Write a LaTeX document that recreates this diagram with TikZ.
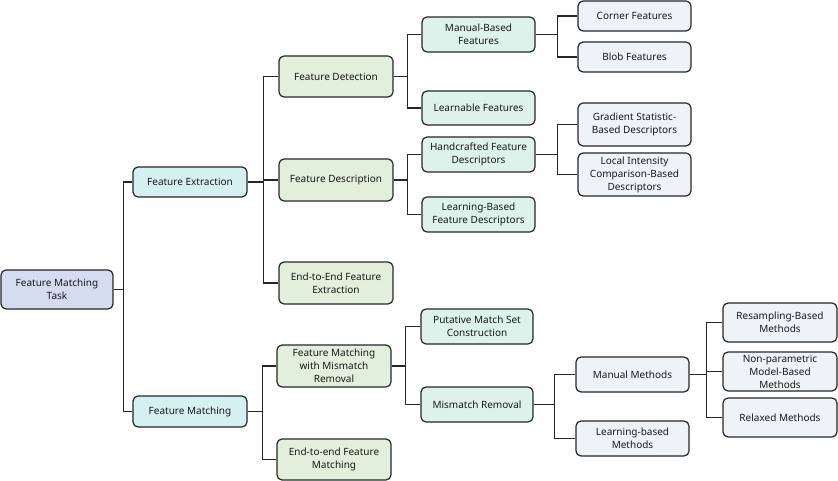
\documentclass[tikz,border=0pt]{standalone}
\usepackage{fontspec}
\setmainfont{Noto Sans}
\definecolor{croot}{HTML}{D5DCF0}
\definecolor{cone}{HTML}{D5F0F0}
\definecolor{ctwo}{HTML}{E2EFDA}
\definecolor{cthree}{HTML}{DDF2EA}
\definecolor{cfour}{HTML}{EEF3F8}
\definecolor{cline}{HTML}{262626}
\tikzset{
  box/.style={draw=cline, line width=1.2pt, rounded corners=5pt, align=center,
    inner sep=1pt, font=\fontsize{10}{13}\selectfont, text=black!90},
  link/.style={draw=cline, line width=1.3pt},
}
\begin{document}
\begin{tikzpicture}[x=1pt,y=-1pt]
\useasboundingbox (0,0) rectangle (838,481);
% root
\node[box, fill=croot, minimum width=112pt, minimum height=39pt] (root) at (57,289.5) {Feature Matching\\Task};
% level 1
\node[box, fill=cone, minimum width=114pt, minimum height=30pt] (fe) at (190,182) {Feature Extraction};
\node[box, fill=cone, minimum width=114pt, minimum height=31pt] (fm) at (190,411.5) {Feature Matching};
% level 2
\node[box, fill=ctwo, minimum width=114pt, minimum height=41pt] (fd) at (336,76.5) {Feature Detection};
\node[box, fill=ctwo, minimum width=114pt, minimum height=42pt] (fdesc) at (336,180) {Feature Description};
\node[box, fill=ctwo, minimum width=114pt, minimum height=42pt] (e2e) at (336,283) {End-to-End Feature\\Extraction};
\node[box, fill=ctwo, minimum width=114pt, minimum height=42pt] (fmmr) at (334,366) {Feature Matching\\with Mismatch\\Removal};
\node[box, fill=ctwo, minimum width=114pt, minimum height=41pt] (e2em) at (334,459.5) {End-to-end Feature\\Matching};
% level 3
\node[box, fill=cthree, minimum width=113pt, minimum height=35pt] (mbf) at (478.5,34.5) {Manual-Based\\Features};
\node[box, fill=cthree, minimum width=113pt, minimum height=34pt] (lf) at (478.5,108) {Learnable Features};
\node[box, fill=cthree, minimum width=113pt, minimum height=35pt] (hfd) at (478.5,154.5) {Handcrafted Feature\\Descriptors};
\node[box, fill=cthree, minimum width=113pt, minimum height=35pt] (lbfd) at (478.5,214.5) {Learning-Based\\Feature Descriptors};
\node[box, fill=cthree, minimum width=112pt, minimum height=35pt] (pmsc) at (477,326.5) {Putative Match Set\\Construction};
\node[box, fill=cthree, minimum width=112pt, minimum height=35pt] (mr) at (477,404.5) {Mismatch Removal};
% level 4
\node[box, fill=cfour, minimum width=113pt, minimum height=30pt] (cf) at (634.5,16) {Corner Features};
\node[box, fill=cfour, minimum width=113pt, minimum height=30pt] (bf) at (634.5,57) {Blob Features};
\node[box, fill=cfour, minimum width=113pt, minimum height=43pt] (gsbd) at (634.5,124.5) {Gradient Statistic-\\Based Descriptors};
\node[box, fill=cfour, minimum width=113pt, minimum height=43pt] (licbd) at (634.5,174.5) {Local Intensity\\Comparison-Based\\Descriptors};
\node[box, fill=cfour, minimum width=113pt, minimum height=35pt] (mm) at (632.5,374.5) {Manual Methods};
\node[box, fill=cfour, minimum width=113pt, minimum height=35pt] (lbm) at (632.5,438.5) {Learning-based\\Methods};
% level 5
\node[box, fill=cfour, minimum width=114pt, minimum height=39pt] (rbm) at (780,322.5) {Resampling-Based\\Methods};
\node[box, fill=cfour, minimum width=114pt, minimum height=39pt] (npmb) at (780,371.5) {Non-parametric\\Model-Based\\Methods};
\node[box, fill=cfour, minimum width=114pt, minimum height=39pt] (relm) at (780,417.5) {Relaxed Methods};
% connectors
\foreach \c in {fe,fm} \draw[link] (root.east) -- ++(10,0) |- (\c.west);
\foreach \c in {fd,fdesc,e2e} \draw[link] (fe.east) -- ++(16,0) |- (\c.west);
\foreach \c in {fmmr,e2em} \draw[link] (fm.east) -- ++(15,0) |- (\c.west);
\foreach \c in {mbf,lf} \draw[link] (fd.east) -- ++(14,0) |- (\c.west);
\foreach \c in {hfd,lbfd} \draw[link] (fdesc.east) -- ++(14,0) |- (\c.west);
\foreach \c in {pmsc,mr} \draw[link] (fmmr.east) -- ++(14,0) |- (\c.west);
\foreach \c in {cf,bf} \draw[link] (mbf.east) -- ++(22,0) |- (\c.west);
\foreach \c in {gsbd,licbd} \draw[link] (hfd.east) -- ++(22,0) |- (\c.west);
\foreach \c in {mm,lbm} \draw[link] (mr.east) -- ++(21,0) |- (\c.west);
\foreach \c in {rbm,npmb,relm} \draw[link] (mm.east) -- ++(17,0) |- (\c.west);
\end{tikzpicture}
\end{document}
